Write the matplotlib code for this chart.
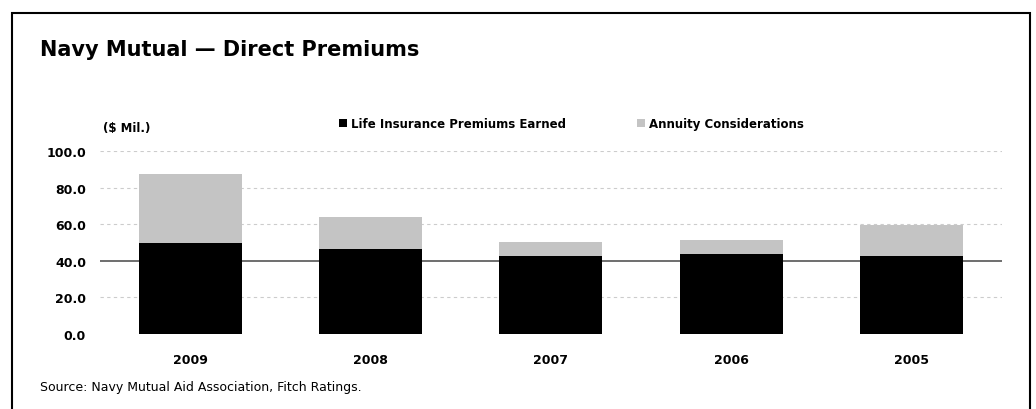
import numpy as np
import matplotlib
matplotlib.use("Agg")
import matplotlib.pyplot as plt
from matplotlib.patches import Rectangle

years = ["2009", "2008", "2007", "2006", "2005"]
life_premiums = [49.5, 46.7, 42.4, 43.5, 42.4]
annuity = [38.0, 17.3, 8.1, 8.1, 17.4]
y_ticks = [0, 20, 40, 60, 80, 100]

plt.rcParams['font.family'] = ['DejaVu Sans']

fig = plt.figure(figsize=(10.36, 4.10), dpi=100)
ax = fig.add_axes([0.0965, 0.183, 0.8705, 0.446])

x = np.arange(len(years))
ax.bar(x, life_premiums, width=0.57, color="black", zorder=3,
       label="Life Insurance Premiums Earned")
ax.bar(x, annuity, width=0.57, bottom=life_premiums, color="#c4c4c4",
       zorder=3, label="Annuity Considerations")

ax.set_xlim(-0.5, 4.5)
ax.set_ylim(0, 100)
ax.set_yticks(y_ticks)
ax.set_yticklabels([f"{v:.1f}" for v in y_ticks], fontsize=9, fontweight="bold")
ax.set_xticks(x)
ax.set_xticklabels(years, fontsize=9, fontweight="bold")
ax.tick_params(length=0, pad=10)
ax.tick_params(axis="x", pad=14)
for v in y_ticks[1:]:
    ax.axhline(v, color="#555555" if v == 40 else "#cccccc",
               lw=1.2 if v == 40 else 0.8, ls="-" if v == 40 else (0, (3, 3)),
               zorder=1)
for s in ax.spines.values():
    s.set_visible(False)

ax.text(0.03, 1.13, "($ Mil.)", transform=ax.transAxes, fontsize=8.5,
        fontweight="bold", ha="center", va="center")
ax.legend(loc="lower left", bbox_to_anchor=(0.26, 1.09), ncol=2, frameon=False,
          handlelength=0.7, handleheight=0.7, columnspacing=6,
          handletextpad=0.3, borderaxespad=0, prop={"weight": "bold", "size": 8.5})

fig.text(40 / 1036, 1 - 50 / 410, "Navy Mutual \u2014 Direct Premiums",
         fontsize=15, fontweight="bold", va="center", ha="left")
fig.text(40 / 1036, 1 - 388 / 410,
         "Source: Navy Mutual Aid Association, Fitch Ratings.",
         fontsize=9, va="center", ha="left")

fig.patches.append(Rectangle((12 / 1036, -0.05), 1018 / 1036, 1 - 14 / 410 + 0.05,
                             transform=fig.transFigure, fill=False,
                             edgecolor="black", lw=1.5))

fig.savefig("out.png", dpi=100)
